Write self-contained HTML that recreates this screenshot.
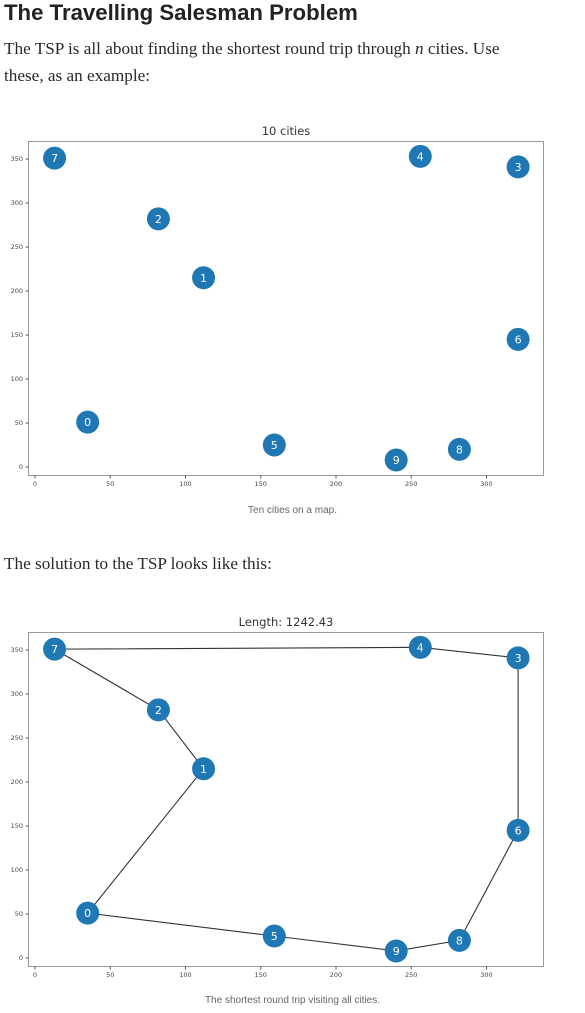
<!DOCTYPE html>
<html><head><meta charset="utf-8">
<style>
body{margin:0;background:#fff;width:585px;height:1013px;overflow:hidden;position:relative}
h1{position:absolute;left:4px;top:0;margin:0;font:bold 22.2px "Liberation Sans",sans-serif;color:#222;letter-spacing:0}
p{position:absolute;left:4px;margin:0;font:17.2px "Liberation Serif",serif;color:#292929;line-height:27px;width:530px}
.cap{position:absolute;left:0;width:585px;text-align:center;font:10px "Liberation Sans",sans-serif;color:#666}
svg{position:absolute;left:0}
</style></head><body>
<h1>The Travelling Salesman Problem</h1>
<p style="top:35px">The TSP is all about finding the shortest round trip through <i>n</i> cities. Use these, as an example:</p>
<svg id="c1" width="585" height="490" style="top:0"></svg>
<div class="cap" style="top:505px">Ten cities on a map.</div>
<p style="top:550px">The solution to the TSP looks like this:</p>
<svg id="c2" width="585" height="1013" style="top:0"></svg>
<div class="cap" style="top:995px">The shortest round trip visiting all cities.</div>
<script>
const cityIds=[0,1,2,3,4,5,6,7,8,9];
const cityX=[35,112,82,321,256,159,321,13,282,240];
const cityY=[51,215,282,341,353,25,145,351,20,8];
const route=[7,4,3,6,8,9,5,0,1,2,7];
const xTicks=[0,50,100,150,200,250,300];
const yTicks=[0,50,100,150,200,250,300,350];
const NS='http://www.w3.org/2000/svg';
function mk(p,t,a){const e=document.createElementNS(NS,t);for(const k in a)e.setAttribute(k,a[k]);p.appendChild(e);return e;}
function draw(svg,oy,title,withRoute){
  const sx=v=>35+v*1.505, sy=v=>oy-v*0.88;
  const t=mk(svg,'text',{x:286,y:oy-332,'text-anchor':'middle','font-family':'DejaVu Sans,sans-serif','font-size':11.5,fill:'#333'});
  t.textContent=title;
  
  
  const f=mk(svg,'rect',{x:28.5,y:oy-325.5,width:515,height:334,fill:'none',stroke:'#999','stroke-width':1});
  
  
  xTicks.forEach(v=>{mk(svg,'line',{x1:sx(v),x2:sx(v),y1:oy+8.5,y2:oy+11.5,stroke:'#555'});
    const l=mk(svg,'text',{x:sx(v),y:oy+19,'text-anchor':'middle','font-family':'DejaVu Sans,sans-serif','font-size':6.5,fill:'#444'});l.textContent=v;
    
    });
  yTicks.forEach(v=>{mk(svg,'line',{x1:25.5,x2:28.5,y1:sy(v),y2:sy(v),stroke:'#555'});
    const l=mk(svg,'text',{x:23,y:sy(v)+2,'text-anchor':'end','font-family':'DejaVu Sans,sans-serif','font-size':6.5,fill:'#444'});l.textContent=v;
    
    });
  if(withRoute){
    const pl=mk(svg,'polyline',{points:route.map(i=>sx(cityX[i])+','+sy(cityY[i])).join(' '),fill:'none',stroke:'#333','stroke-width':1.1});
    
    
  }
  cityIds.forEach(i=>{
    const c=mk(svg,'circle',{cx:sx(cityX[i]),cy:sy(cityY[i]),r:11.5,fill:'#1f77b4'});
    
    
    const l=mk(svg,'text',{x:sx(cityX[i]),y:sy(cityY[i])+4,'text-anchor':'middle','font-family':'DejaVu Sans,sans-serif','font-size':11,fill:'#fff'});
    l.textContent=cityIds[i];
    
    
  });
}
draw(document.getElementById('c1'),467,'10 cities',false);
draw(document.getElementById('c2'),958,'Length: 1242.43',true);
</script>
</body></html>
